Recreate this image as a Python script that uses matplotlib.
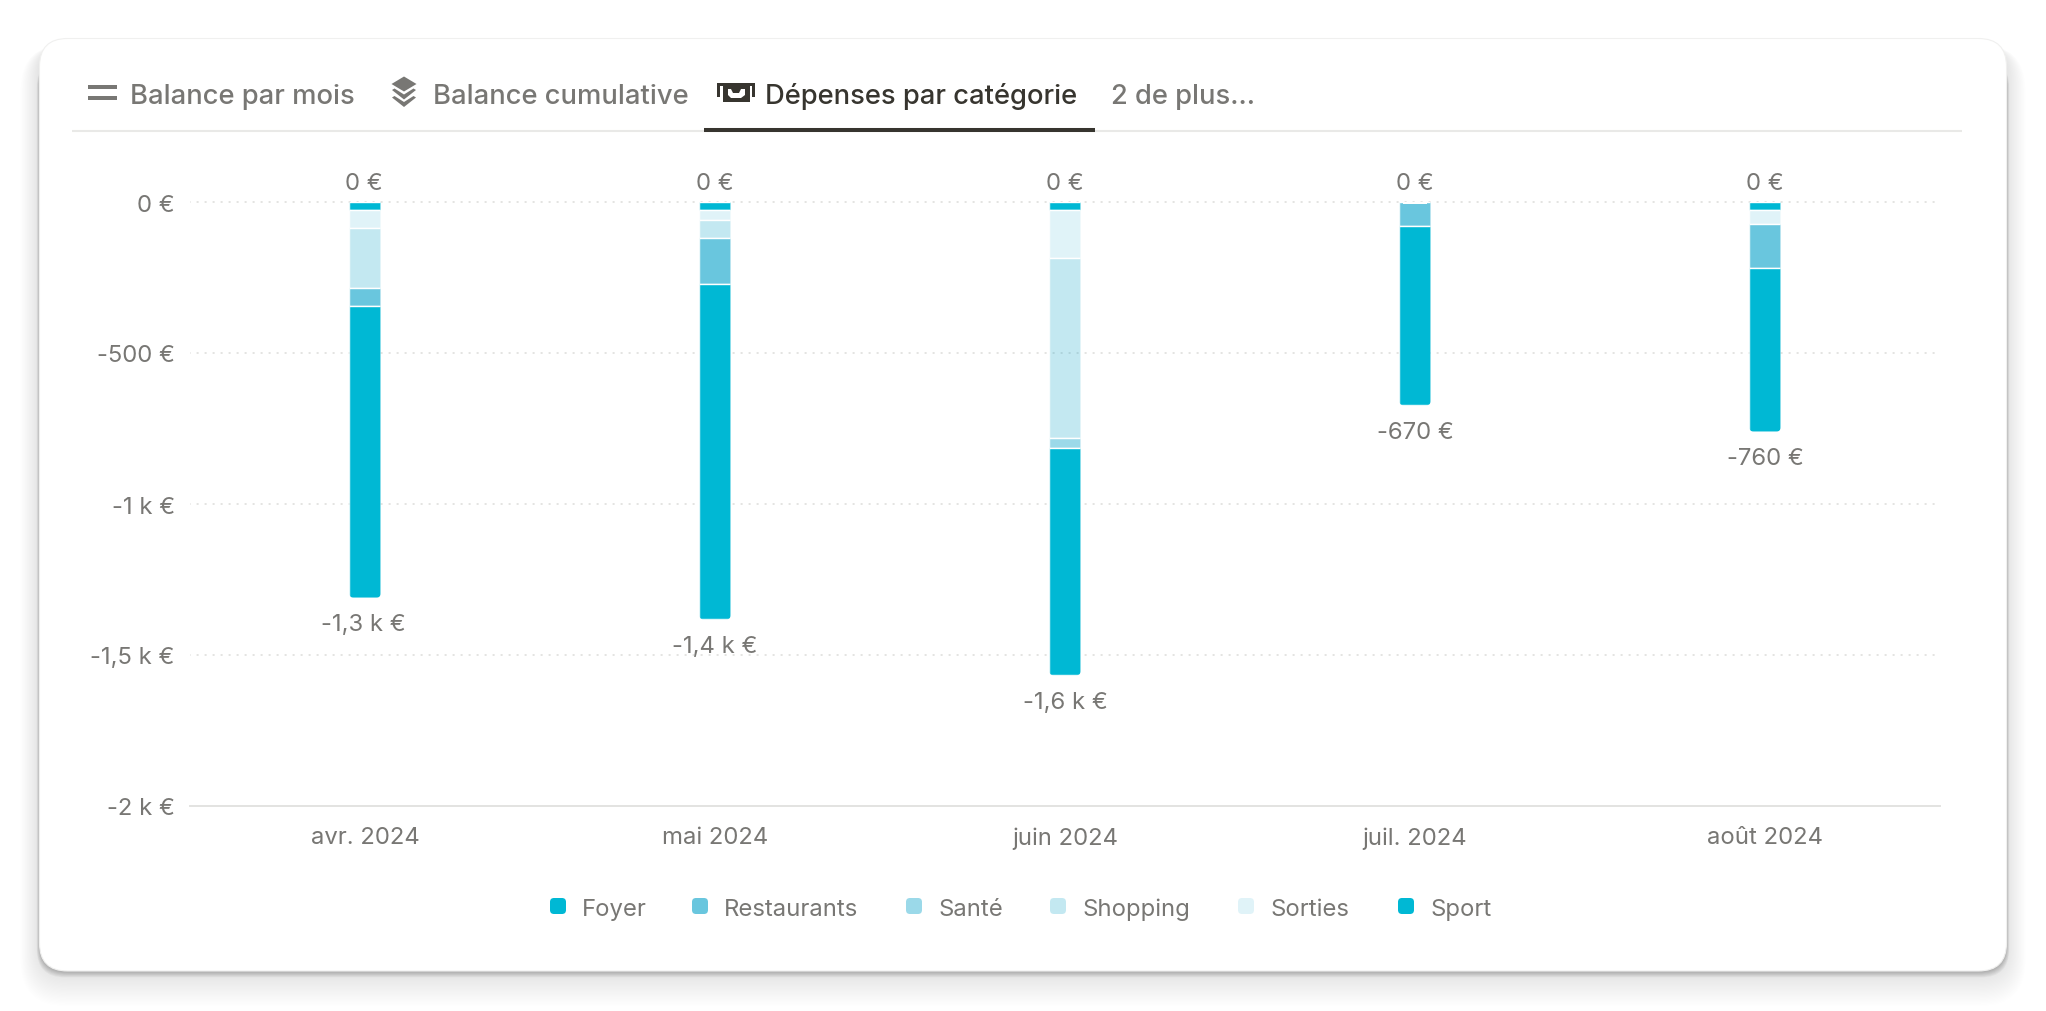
import matplotlib
matplotlib.use("Agg")
import matplotlib.pyplot as plt
from matplotlib.patches import FancyBboxPatch, Polygon, Rectangle
from matplotlib.transforms import ScaledTranslation

plt.rcParams['font.family'] = ['Inter', 'DejaVu Sans']
plt.rcParams['lines.scale_dashes'] = False

# ----- data (euros spent, per month) -----
months = ["avr. 2024", "mai 2024", "juin 2024", "juil. 2024", "août 2024"]
categories = ["Foyer", "Restaurants", "Santé", "Shopping", "Sorties", "Sport"]

foyer = [966, 1110, 752, 593, 541]
restaurants = [59, 152, 0, 80, 146]
sante = [0, 0, 34, 0, 0]
shopping = [198, 60, 596, 0, 0]
sorties = [61, 34, 159, 0, 47]
sport = [26, 26, 26, 0, 26]

top_labels = ["0 €", "0 €", "0 €", "0 €", "0 €"]
bottom_labels = ["-1,3 k €", "-1,4 k €", "-1,6 k €", "-670 €", "-760 €"]
y_ticks = [0, -500, -1000, -1500, -2000]
y_tick_labels = ["0 €", "-500 €", "-1 k €", "-1,5 k €", "-2 k €"]

tabs = ["Balance par mois", "Balance cumulative", "Dépenses par catégorie", "2 de plus…"]

# ----- styles -----
CYAN = (0.0, 0.722, 0.831)
SOFT = (0.02, 0.63, 0.785)
colors = {
    "Foyer": CYAN + (1.0,),
    "Restaurants": SOFT + (0.6,),
    "Santé": SOFT + (0.40,),
    "Shopping": SOFT + (0.24,),
    "Sorties": SOFT + (0.12,),
    "Sport": CYAN + (1.0,),
}
TEXT = "#787774"
DARK = "#37352F"
LINE = "#E9E9E7"
W, H = 2046, 1012
PX_PER_EURO = 0.302
BAND = 350.0
LABEL_SIZE = 17.2

fig = plt.figure(figsize=(W / 100, H / 100), dpi=100, facecolor="white")

# background layer in pixel coordinates (card, tabs, legend)
bg = fig.add_axes([0, 0, 1, 1])
bg.set_xlim(0, W)
bg.set_ylim(H, 0)
bg.axis("off")


def card_box(x0, y0, x1, y1, r, **kw):
    p = FancyBboxPatch((x0, y0), x1 - x0, y1 - y0,
                       boxstyle=f"round,pad=0,rounding_size={r}", **kw)
    bg.add_patch(p)
    return p


# soft shadow
for i in range(28, 0, -1):
    card_box(40 - i * 0.7, 46, 2006 + i * 0.7, 972 + i * 1.25, 28 + i * 0.6,
             fc="black", ec="none", alpha=0.003)
for i in range(8, 0, -1):
    card_box(40 - i * 0.4, 60, 2006 + i * 0.4, 972 + i * 0.8, 28,
             fc="black", ec="none", alpha=0.03)
card_box(39.5, 39.5, 2006.5, 972, 28, fc="white", ec="#F0F0EF", lw=0.8)

# tabs
bg.plot([72, 1962], [132, 132], color=LINE, lw=1.5, solid_capstyle="butt")
bg.plot([704, 1094.5], [131, 131], color=DARK, lw=2.9, solid_capstyle="butt")
tab_x = [130, 433, 765, 1111]
for label, x in zip(tabs, tab_x):
    active = label.startswith("Dépenses")
    bg.text(x, 104, label, fontsize=19.7, color=DARK if active else TEXT,
            weight="medium", ha="left", va="baseline")

# icon: two bars
bg.add_patch(Rectangle((87.5, 85.7), 29, 4.3, fc=TEXT, ec="none"))
bg.add_patch(Rectangle((87.5, 96.7), 29, 4.0, fc=TEXT, ec="none"))
# icon: layers
bg.add_patch(Polygon([(404, 77.5), (416.5, 85), (404, 92.5), (391.5, 85)], fc=TEXT, ec="none"))
for dy in (0, 7.5):
    bg.add_patch(Polygon([(392, 91 + dy), (394.5, 89.5 + dy), (404, 95.5 + dy), (413.5, 89.5 + dy),
                          (416, 91 + dy), (404, 100.5 + dy)], fc=TEXT, ec="none"))
# icon: banknote
bg.add_patch(Rectangle((717, 83.5), 38, 3.6, fc=DARK, ec="none"))
bg.add_patch(Rectangle((717, 83.5), 3, 14.5, fc=DARK, ec="none"))
bg.add_patch(Rectangle((752, 83.5), 3, 14.5, fc=DARK, ec="none"))
bg.add_patch(Rectangle((722.5, 87), 27.5, 15.5, fc=DARK, ec="none"))
bg.add_patch(Polygon([(728, 90), (731, 90), (733, 94), (739, 94), (741, 90), (745, 90),
                      (745, 96), (741, 99), (731, 99), (728, 96)], fc="white", ec="none"))

# legend
legend_swatch_x = [550, 692, 906, 1050, 1238, 1398]
for name, x in zip(categories, legend_swatch_x):
    card_box(x, 899, x + 16, 915, 4, fc=colors[name], ec="none")
    bg.text(x + 32, 916, name, fontsize=LABEL_SIZE, color=TEXT, ha="left", va="baseline")

# ----- the chart itself -----
ax = fig.add_axes([190 / W, (H - 807) / H, 1750 / W, 604 / H])
ax.patch.set_alpha(0)
positions = list(range(len(months)))
bar_width = 32 / BAND

# stack order from the top of the bar down
stack_order = [("Sport", sport), ("Sorties", sorties), ("Shopping", shopping),
               ("Santé", sante), ("Restaurants", restaurants), ("Foyer", foyer)]
offset = [0] * len(months)
all_rects = [[] for _ in months]
for name, values in stack_order:
    rects = ax.bar(positions, [-v for v in values], bottom=[-o for o in offset], width=bar_width,
                   color=[colors[name]], edgecolor="white", linewidth=1.0, zorder=3)
    for i, r in enumerate(rects):
        if values[i] > 0:
            all_rects[i].append(r)
        else:
            r.set_visible(False)
    offset = [o + v for o, v in zip(offset, values)]

# round the lower corners of each stack
aspect = (4 / PX_PER_EURO) / (4 / BAND)
for i, total in enumerate(offset):
    w = 31 / BAND
    clip = FancyBboxPatch((i - w / 2, -total), w, total + 40,
                          boxstyle=f"round,pad=0,rounding_size={4 / BAND}",
                          mutation_aspect=aspect, transform=ax.transData)
    for r in all_rects[i]:
        r.set_clip_path(clip)

# small notch at the top of the juil. stack
ax.bar(3, -6.5, width=24.5 / BAND, color="white", zorder=4)

for i, total in enumerate(offset):
    shift = -1.5 / BAND if i == 0 else 0
    ax.annotate(top_labels[i], (i + shift, 0), xytext=(0, 9.4), textcoords="offset points",
                ha="center", va="baseline", fontsize=LABEL_SIZE, color=TEXT)
    shift = -2 / BAND if i == 0 else 0
    ax.annotate(bottom_labels[i], (i + shift, -total), xytext=(0, -23.6), textcoords="offset points",
                ha="center", va="baseline", fontsize=LABEL_SIZE, color=TEXT, annotation_clip=False)

ax.set_xlim(-0.5, 4.5)
ax.set_ylim(-2000, 0)
ax.set_xticks(positions, months)
ax.set_yticks(y_ticks, y_tick_labels)
ax.tick_params(axis="both", length=0, labelsize=LABEL_SIZE, labelcolor=TEXT)
ax.tick_params(axis="x", pad=14.5)
ax.tick_params(axis="y", pad=11)
label_drop = ScaledTranslation(0, -0.085, fig.dpi_scale_trans)
for lbl in ax.get_yticklabels():
    lbl.set_va("baseline")
    lbl.set_transform(lbl.get_transform() + label_drop)
ax.grid(axis="y", color="#DCDCDA", linewidth=1.1, linestyle=(1, (1.44, 4.32)), zorder=1)
ax.set_axisbelow(True)
for line in ax.get_ygridlines():
    line.set_clip_on(False)
for side in ("top", "left", "right"):
    ax.spines[side].set_visible(False)
ax.spines["bottom"].set_color("#E3E3E1")
ax.spines["bottom"].set_linewidth(1.4)

fig.savefig("out.png", dpi=100, facecolor="white")
